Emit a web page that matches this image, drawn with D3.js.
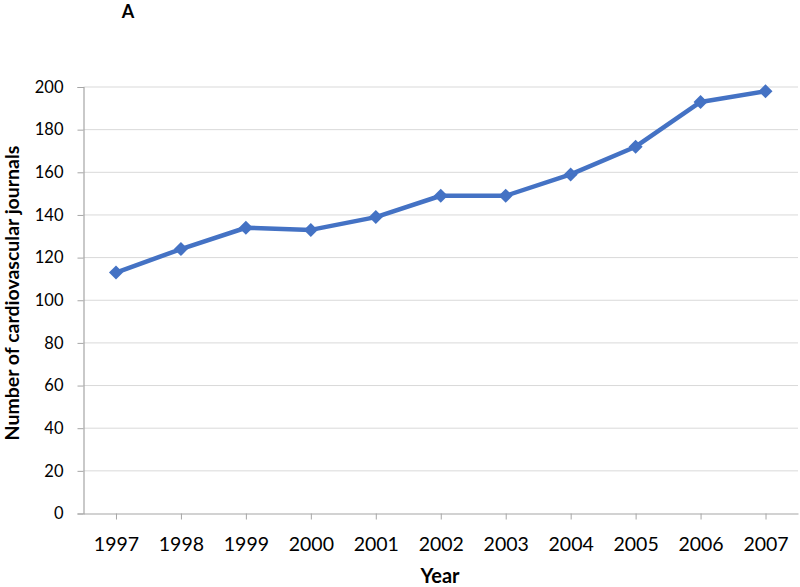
<!DOCTYPE html>
<html><head><meta charset="utf-8">
<script src="https://cdn.jsdelivr.net/npm/d3@7"></script>
<style>body{margin:0;background:#fff}svg{display:block;font-family:Lato,"Open Sans",sans-serif}</style>
</head><body><svg id="c" width="800" height="587"></svg>
<script>
const years = ["1997","1998","1999","2000","2001","2002","2003","2004","2005","2006","2007"];
const journals = [113,124,134,133,139,149,149,159,172,193,198];
const yTicks = [0,20,40,60,80,100,120,140,160,180,200];

(function(){
const svg = d3.select("#c");
const mLeft = 83.5, mRight = 798, mTop = 87, mBottom = 513.5;
const x = d3.scalePoint().domain(years).range([mLeft, mRight]).padding(0.5);
const y = d3.scaleLinear().domain([0,200]).range([mBottom, mTop]);

// gridlines
svg.append("g").selectAll("line").data(yTicks.filter(d=>d>0)).join("line")
  .attr("x1", mLeft).attr("x2", mRight).attr("y1", d=>y(d)).attr("y2", d=>y(d))
  .attr("stroke", "#d9d9d9").attr("stroke-width", 1);

// y axis
const ya = svg.append("g").attr("transform", `translate(${mLeft},0)`)
  .call(d3.axisLeft(y).tickValues(yTicks).tickSize(6).tickPadding(14));
ya.select(".domain").attr("stroke", "#a6a6a6").attr("stroke-width", 1.2);
ya.selectAll(".tick line").attr("stroke", "#a6a6a6");
ya.selectAll("text").attr("font-size", 16.5).attr("fill", "#000").attr("font-family", "Lato,'Open Sans',sans-serif");

// x axis
const xa = svg.append("g").attr("transform", `translate(0,${mBottom})`)
  .call(d3.axisBottom(x).tickSize(6).tickSizeOuter(0).tickPadding(18));
xa.select(".domain").attr("stroke", "#a6a6a6").attr("stroke-width", 1.2);
xa.selectAll(".tick line").attr("stroke", "#a6a6a6");
xa.selectAll("text").attr("font-size", 19.5).attr("fill", "#000").attr("font-family", "Lato,'Open Sans',sans-serif");

// line
svg.append("path").datum(journals)
  .attr("fill", "none").attr("stroke", "#4472C4").attr("stroke-width", 4.5).attr("stroke-linejoin", "round")
  .attr("d", d3.line().x((d,i)=>x(years[i])).y(d=>y(d)));

// markers
svg.append("g").selectAll("path").data(journals).join("path")
  .attr("transform", (d,i)=>`translate(${x(years[i])},${y(d)})`)
  .attr("d", d3.symbol(d3.symbolDiamond2, 125)())
  .attr("fill", "#4472C4");

// titles
svg.append("text").attr("x", 128).attr("y", 18).attr("text-anchor", "middle")
  .attr("font-size", 18).attr("font-weight", "bold").text("A");
svg.append("text").attr("transform", `translate(19,293) rotate(-90)`)
  .attr("text-anchor", "middle").attr("font-size", 19.5).attr("font-weight", "bold")
  .text("Number of cardiovascular journals");
svg.append("text").attr("x", 440).attr("y", 583).attr("text-anchor", "middle")
  .attr("font-size", 20).attr("font-weight", "bold").text("Year");
})();
</script></body></html>
